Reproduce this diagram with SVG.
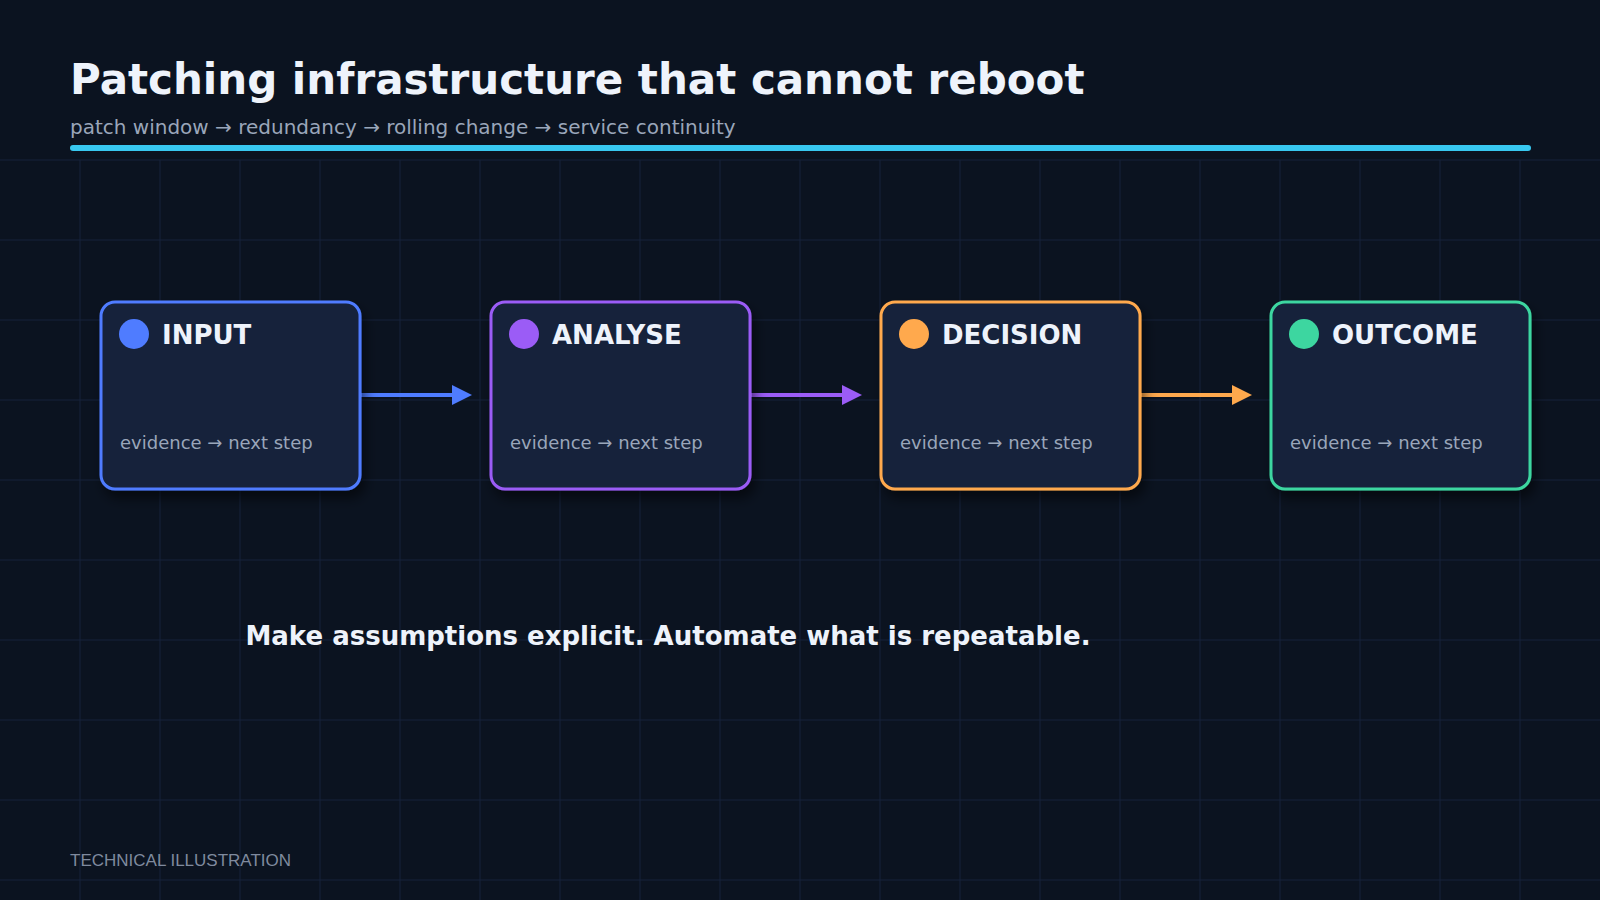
<svg xmlns="http://www.w3.org/2000/svg" width="1600" height="900" viewBox="0 0 1600 900">
<defs>
<style>
.g{stroke:#16233a;stroke-width:1}
.nb{fill:#13213a;stroke-width:3}
.nt{font-family:"DejaVu Sans",sans-serif;font-weight:bold;font-size:26px;fill:#eef3fb}
.ns{font-family:"DejaVu Sans",sans-serif;font-size:18px;fill:#9aa6ba}
.c{stroke-width:4;fill:none}
</style>
<filter id="sh" x="-20%" y="-20%" width="140%" height="150%"><feDropShadow dx="4" dy="8" stdDeviation="6" flood-color="#000" flood-opacity="0.5"/></filter>
<marker id="mb" markerWidth="10" markerHeight="10" refX="9" refY="5" orient="auto" markerUnits="userSpaceOnUse" viewBox="0 0 10 10"><path d="M0,0L10,5L0,10z" fill="#4f7cff"/></marker>
</defs>
<rect width="1600" height="900" fill="#0b1320"/>
<g class="g">
<path d="M80 160V900M160 160V900M240 160V900M320 160V900M400 160V900M480 160V900M560 160V900M640 160V900M720 160V900M800 160V900M880 160V900M960 160V900M1040 160V900M1120 160V900M1200 160V900M1280 160V900M1360 160V900M1440 160V900M1520 160V900"/>
<path d="M0 160H1600M0 240H1600M0 320H1600M0 400H1600M0 480H1600M0 560H1600M0 640H1600M0 720H1600M0 800H1600M0 880H1600"/>
</g>
<text x="70" y="94" font-family="DejaVu Sans,sans-serif" font-weight="bold" font-size="42" fill="#eef3fb">Patching infrastructure that cannot reboot</text>
<text x="70" y="134" font-family="DejaVu Sans,sans-serif" font-size="20" fill="#9aa6ba">patch window → redundancy → rolling change → service continuity</text>
<rect x="70" y="145" width="1461" height="6" rx="3" fill="#38c8f0"/>
<g id="connectors">
<path class="c" d="M360 395H460" stroke="#4f7cff"/><path d="M452 385L472 395L452 405z" fill="#4f7cff"/>
<path class="c" d="M750 395H850" stroke="#9b5cf6"/><path d="M842 385L862 395L842 405z" fill="#9b5cf6"/>
<path class="c" d="M1140 395H1240" stroke="#ffa94d"/><path d="M1232 385L1252 395L1232 405z" fill="#ffa94d"/>
</g>
<g id="n1"><rect class="nb" x="101" y="302" width="259" height="187" rx="14" stroke="#4f7cff" filter="url(#sh)"/><circle cx="134" cy="334" r="15" fill="#4f7cff"/><text class="nt" x="162" y="344">INPUT</text><text class="ns" x="120" y="449">evidence → next step</text></g>
<g id="n2"><rect class="nb" x="491" y="302" width="259" height="187" rx="14" stroke="#9b5cf6" filter="url(#sh)"/><circle cx="524" cy="334" r="15" fill="#9b5cf6"/><text class="nt" x="552" y="344">ANALYSE</text><text class="ns" x="510" y="449">evidence → next step</text></g>
<g id="n3"><rect class="nb" x="881" y="302" width="259" height="187" rx="14" stroke="#ffa94d" filter="url(#sh)"/><circle cx="914" cy="334" r="15" fill="#ffa94d"/><text class="nt" x="942" y="344">DECISION</text><text class="ns" x="900" y="449">evidence → next step</text></g>
<g id="n4"><rect class="nb" x="1271" y="302" width="259" height="187" rx="14" stroke="#3dd6a0" filter="url(#sh)"/><circle cx="1304" cy="334" r="15" fill="#3dd6a0"/><text class="nt" x="1332" y="344">OUTCOME</text><text class="ns" x="1290" y="449">evidence → next step</text></g>
<text x="668" y="645" text-anchor="middle" font-family="DejaVu Sans,sans-serif" font-weight="bold" font-size="26" fill="#eef3fb">Make assumptions explicit. Automate what is repeatable.</text>
<text x="70" y="866" font-family="Liberation Sans,sans-serif" font-size="17" fill="#7f8a9e">TECHNICAL ILLUSTRATION</text>
</svg>
